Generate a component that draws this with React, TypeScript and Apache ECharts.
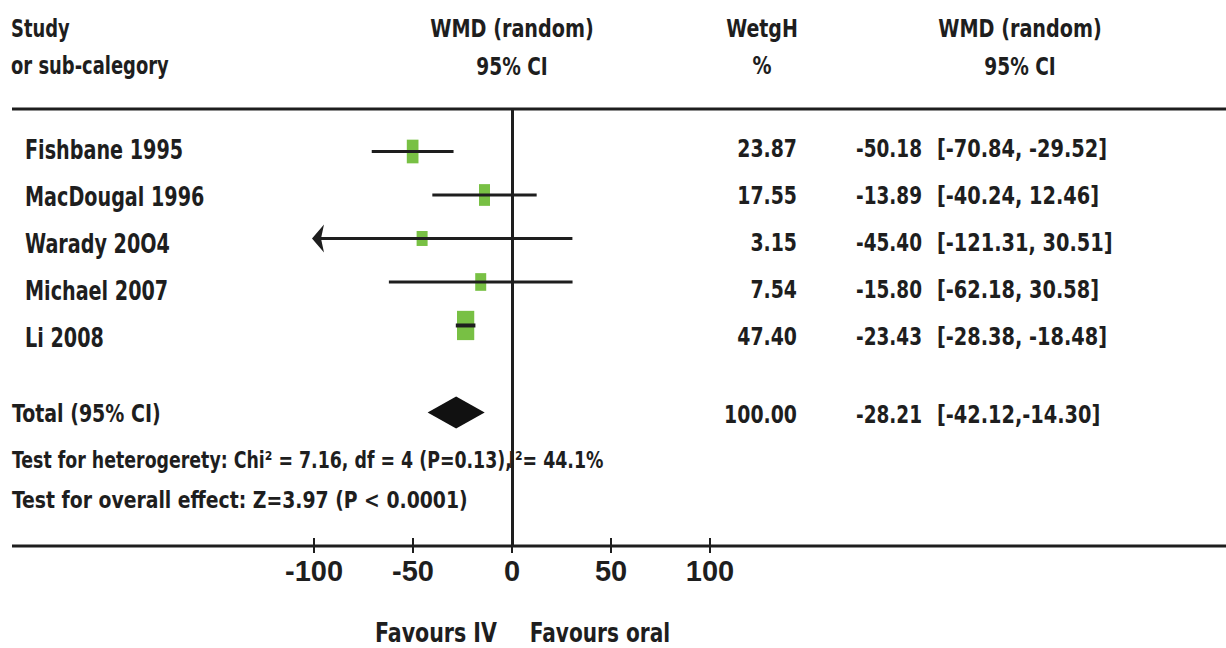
import React, { useEffect, useRef } from "react";
import * as echarts from "echarts";

// ---------- data ----------
const studies = ["Fishbane 1995", "MacDougal 1996", "Warady 20O4", "Michael 2007", "Li 2008"];
const weights = [23.87, 17.55, 3.15, 7.54, 47.4];
const estimates = [-50.18, -13.89, -45.4, -15.8, -23.43];
const ciLow = [-70.84, -40.24, -121.31, -62.18, -28.38];
const ciHigh = [-29.52, 12.46, 30.51, 30.58, -18.48];

const totalLabel = "Total (95% CI)";
const totalWeight = 100.0;
const totalEstimate = -28.21;
const totalLow = -42.12;
const totalHigh = -14.3;
const totalRow = 6;

const xTicks = [-100, -50, 0, 50, 100];
const headerStudy = ["Study", "or sub-calegory"];
const headerEffect = ["WMD (random)", "95% CI"];
const headerWeight = ["WetgH", "%"];
const heterogeneityText = "Test for heterogerety: Chi\u00B2 = 7.16, df = 4 (P=0.13),";
const i2Text = "I\u00B2= 44.1%";
const overallText = "Test for overall effect: Z=3.97 (P < 0.0001)";
const favoursLeft = "Favours IV";
const favoursRight = "Favours oral";

// ---------- helpers ----------
const FONT = "'DejaVu Sans Condensed', 'DejaVu Sans', sans-serif";
const AXIS_FONT = "'Liberation Sans', Arial, sans-serif";
const INK = "#1e1e1e";
const GREEN = "#78c044";
const f = (size: number) => `bold ${size}px ${FONT}`;
const ciText = (lo: number, hi: number, sep: string) => `[${lo.toFixed(2)},${sep}${hi.toFixed(2)}]`;

function txt(text: string, x: number, y: number, size: number, align = "left", sx = 0.85) {
  return {
    type: "text",
    x,
    y,
    scaleX: sx,
    style: {
      text,
      fill: INK,
      font: f(size),
      align,
      textAlign: align,
      verticalAlign: "middle",
      textVerticalAlign: "middle",
    },
  };
}

export default function App() {
  const ref = useRef<HTMLDivElement>(null);

  useEffect(() => {
    document.body.style.margin = "0";
    const chart = echarts.init(ref.current!, null, { renderer: "svg" });

    const boxH = (w: number) => 10 + 2.8 * Math.sqrt(w);
    const boxW = (h: number) => Math.max(11, h - 12);

    const forestData = studies.map((_, i) => [estimates[i], i, ciLow[i], ciHigh[i], weights[i]]);
    const tableData = studies.map((_, i) => [0, i]);

    chart.setOption({
      animation: false,
      grid: { left: 314, right: 516, top: 108, bottom: 102 },
      xAxis: {
        type: "value",
        min: xTicks[0],
        max: xTicks[xTicks.length - 1],
        interval: 50,
        offset: -8,
        axisLine: { show: false, onZero: false },
        axisTick: { show: true, length: 15, lineStyle: { color: INK, width: 2 } },
        axisLabel: {
          margin: 18,
          fontSize: 29,
          fontWeight: "bold",
          fontFamily: AXIS_FONT,
          color: INK,
        },
        splitLine: { show: false },
      },
      yAxis: [
        { type: "value", min: -1, max: 9.07, inverse: true, show: false },
        { type: "value", min: -0.851, max: 8.468, inverse: true, show: false },
      ],
      graphic: [
        { type: "line", shape: { x1: 12, y1: 109, x2: 1226, y2: 109 }, style: { stroke: INK, lineWidth: 3 } },
        { type: "line", shape: { x1: 12, y1: 546, x2: 1226, y2: 546 }, style: { stroke: INK, lineWidth: 3 } },
        txt(headerStudy[0], 11, 29, 24, "left", 0.83),
        txt(headerStudy[1], 11, 66, 24, "left", 0.83),
        txt(headerEffect[0], 512, 29, 24, "center", 0.89),
        txt(headerEffect[1], 512, 66, 24, "center", 0.86),
        txt(headerWeight[0], 762, 29, 24, "center", 0.88),
        txt(headerWeight[1], 762, 66, 24, "center", 0.88),
        txt(headerEffect[0], 1020, 29, 24, "center", 0.89),
        txt(headerEffect[1], 1020, 66, 24, "center", 0.86),
        txt(totalLabel, 12, 414, 24, "left", 0.88),
        txt(totalWeight.toFixed(2), 797, 414, 25, "right", 0.84),
        txt(totalEstimate.toFixed(2), 922, 414, 25, "right", 0.82),
        txt(ciText(totalLow, totalHigh, ""), 937, 414, 25, "left", 0.86),
        txt(heterogeneityText, 12, 460, 23, "left", 0.84),
        txt(i2Text, 508.5, 460, 23, "left", 0.84),
        txt(overallText, 12, 500, 23, "left", 0.91),
        txt(favoursLeft, 436, 633, 26, "center", 0.88),
        txt(favoursRight, 600, 633, 26, "center", 0.86),
      ],
      series: [
        {
          type: "custom",
          name: "studies",
          xAxisIndex: 0,
          yAxisIndex: 0,
          data: forestData,
          encode: { x: [0, 2, 3], y: 1 },
          clip: false,
          renderItem: (params: any, api: any) => {
            const est = api.value(0);
            const row = api.value(1);
            const lo = api.value(2);
            const hi = api.value(3);
            const w = api.value(4);
            const c = api.coord([est, row]);
            const xMin = api.coord([xTicks[0], row])[0];
            const clipped = lo < xTicks[0];
            const pLo = api.coord([Math.max(lo, xTicks[0]), row]);
            const pHi = api.coord([Math.min(hi, xTicks[xTicks.length - 1]), row]);
            const h = boxH(w);
            const bw = boxW(h);
            const children: any[] = [
              { type: "rect", shape: { x: c[0] - bw / 2, y: c[1] - h / 2, width: bw, height: h }, style: { fill: GREEN } },
              {
                type: "line",
                shape: { x1: clipped ? xMin + 6 : pLo[0], y1: c[1], x2: pHi[0], y2: c[1] },
                style: { stroke: INK, lineWidth: w > 40 ? 4 : 3 },
              },
            ];
            if (clipped) {
              children.push({
                type: "polygon",
                shape: { points: [[xMin - 2, c[1]], [xMin + 10, c[1] - 14], [xMin + 7, c[1]], [xMin + 10, c[1] + 14]] },
                style: { fill: INK },
              });
            }
            return { type: "group", children };
          },
          markLine: {
            silent: true,
            symbol: ["none", "none"],
            label: { show: false },
            lineStyle: { color: INK, width: 3, type: "solid" },
            data: [{ xAxis: 0 }],
          },
          z: 3,
        },
        {
          type: "custom",
          name: "total",
          xAxisIndex: 0,
          yAxisIndex: 0,
          data: [[totalEstimate, totalRow, totalLow, totalHigh]],
          encode: { x: [0, 2, 3], y: 1 },
          clip: false,
          renderItem: (params: any, api: any) => {
            const c = api.coord([api.value(0), api.value(1)]);
            const l = api.coord([api.value(2), api.value(1)]);
            const r = api.coord([api.value(3), api.value(1)]);
            return {
              type: "polygon",
              shape: { points: [[l[0] - 1, c[1]], [c[0], c[1] - 16], [r[0] + 1, c[1]], [c[0], c[1] + 16]] },
              style: { fill: "#111" },
            };
          },
        },
        {
          type: "custom",
          name: "table",
          xAxisIndex: 0,
          yAxisIndex: 1,
          data: tableData,
          encode: { x: 0, y: 1 },
          clip: false,
          silent: true,
          renderItem: (params: any, api: any) => {
            const i = params.dataIndex;
            const y = api.coord([0, api.value(1)])[1];
            return {
              type: "group",
              children: [
                txt(studies[i], 25, y + 2, 26, "left", 0.82),
                txt(weights[i].toFixed(2), 797, y, 25, "right", 0.84),
                txt(estimates[i].toFixed(2), 922, y, 25, "right", 0.82),
                txt(ciText(ciLow[i], ciHigh[i], " "), 937, y, 25, "left", 0.86),
              ],
            };
          },
        },
      ],
    });

    return () => chart.dispose();
  }, []);

  return <div ref={ref} style={{ width: 1226, height: 648, background: "#fff" }} />;
}
